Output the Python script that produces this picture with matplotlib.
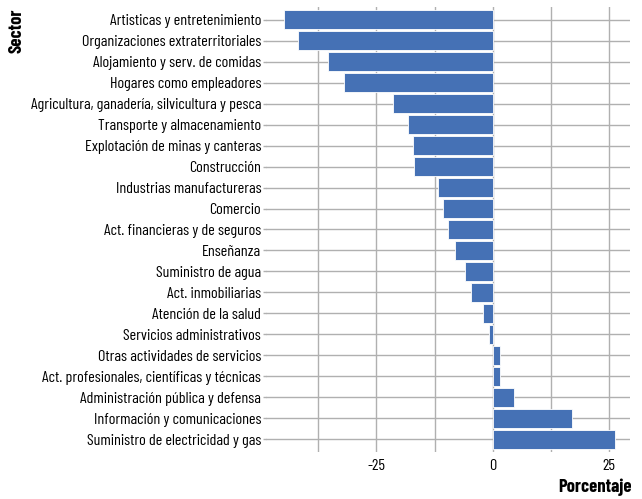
import matplotlib
matplotlib.use("Agg")
import matplotlib.pyplot as plt
from matplotlib import font_manager
import numpy as np

sectores = [
    "Artisticas y entretenimiento",
    "Organizaciones extraterritoriales",
    "Alojamiento y serv. de comidas",
    "Hogares como empleadores",
    "Agricultura, ganadería, silvicultura y pesca",
    "Transporte y almacenamiento",
    "Explotación de minas y canteras",
    "Construcción",
    "Industrias manufactureras",
    "Comercio",
    "Act. financieras y de seguros",
    "Enseñanza",
    "Suministro de agua",
    "Act. inmobiliarias",
    "Atención de la salud",
    "Servicios administrativos",
    "Otras actividades de servicios",
    "Act. profesionales, científicas y técnicas",
    "Administración pública y defensa",
    "Información y comunicaciones",
    "Suministro de electricidad y gas",
]
porcentaje = [-44.9, -41.9, -35.4, -32.0, -21.4, -18.2, -17.2, -16.9, -11.8, -10.7,
              -9.6, -8.1, -5.9, -4.7, -2.1, -0.8, 1.6, 1.6, 4.6, 17.1, 26.3]

# fuente condensada si existe
names = {f.name for f in font_manager.fontManager.ttflist}
fam = "DejaVu Sans"
for cand in ["Barlow Condensed", "Roboto Condensed", "Open Sans Condensed", "Archivo Narrow", "Oswald"]:
    if cand in names:
        fam = cand
        break
plt.rcParams['font.family'] = [fam, "DejaVu Sans"]
plt.rcParams['axes.unicode_minus'] = False

fig = plt.figure(figsize=(6.42, 4.99), dpi=100)
ax = fig.add_axes([266/642, 47/499, 364/642, 445/499])

y = np.arange(len(sectores))
ax.barh(y, porcentaje, height=0.9, color="#4571b5", edgecolor="white", linewidth=0.6, zorder=3)
ax.set_yticks(y)
ax.set_yticklabels(sectores, fontsize=11.6)
ax.set_ylim(len(sectores) - 0.4, -0.6)
ax.set_xlim(-48.75, 29.5)
ax.set_xticks([-25, 0, 25])
ax.set_xticks([-37.5, -12.5, 12.5], minor=True)
ax.tick_params(axis="x", which="minor", length=0)
ax.tick_params(axis="x", which="major", labelsize=11.6, length=0, pad=5)
ax.tick_params(axis="y", length=2, width=1, color="#b0b0b0", pad=1.5)
ax.grid(True, which="both", color="#b0b0b0", linewidth=1.0, zorder=0)
for s in ax.spines.values():
    s.set_visible(False)

fig.text(0.014, 0.982, "Sector", rotation=90, fontsize=13.4, fontweight="bold", ha="left", va="top")
fig.text(632/642, 0.024, "Porcentaje", fontsize=13.4, fontweight="bold", ha="right", va="center")

fig.savefig("out.png", dpi=100)
